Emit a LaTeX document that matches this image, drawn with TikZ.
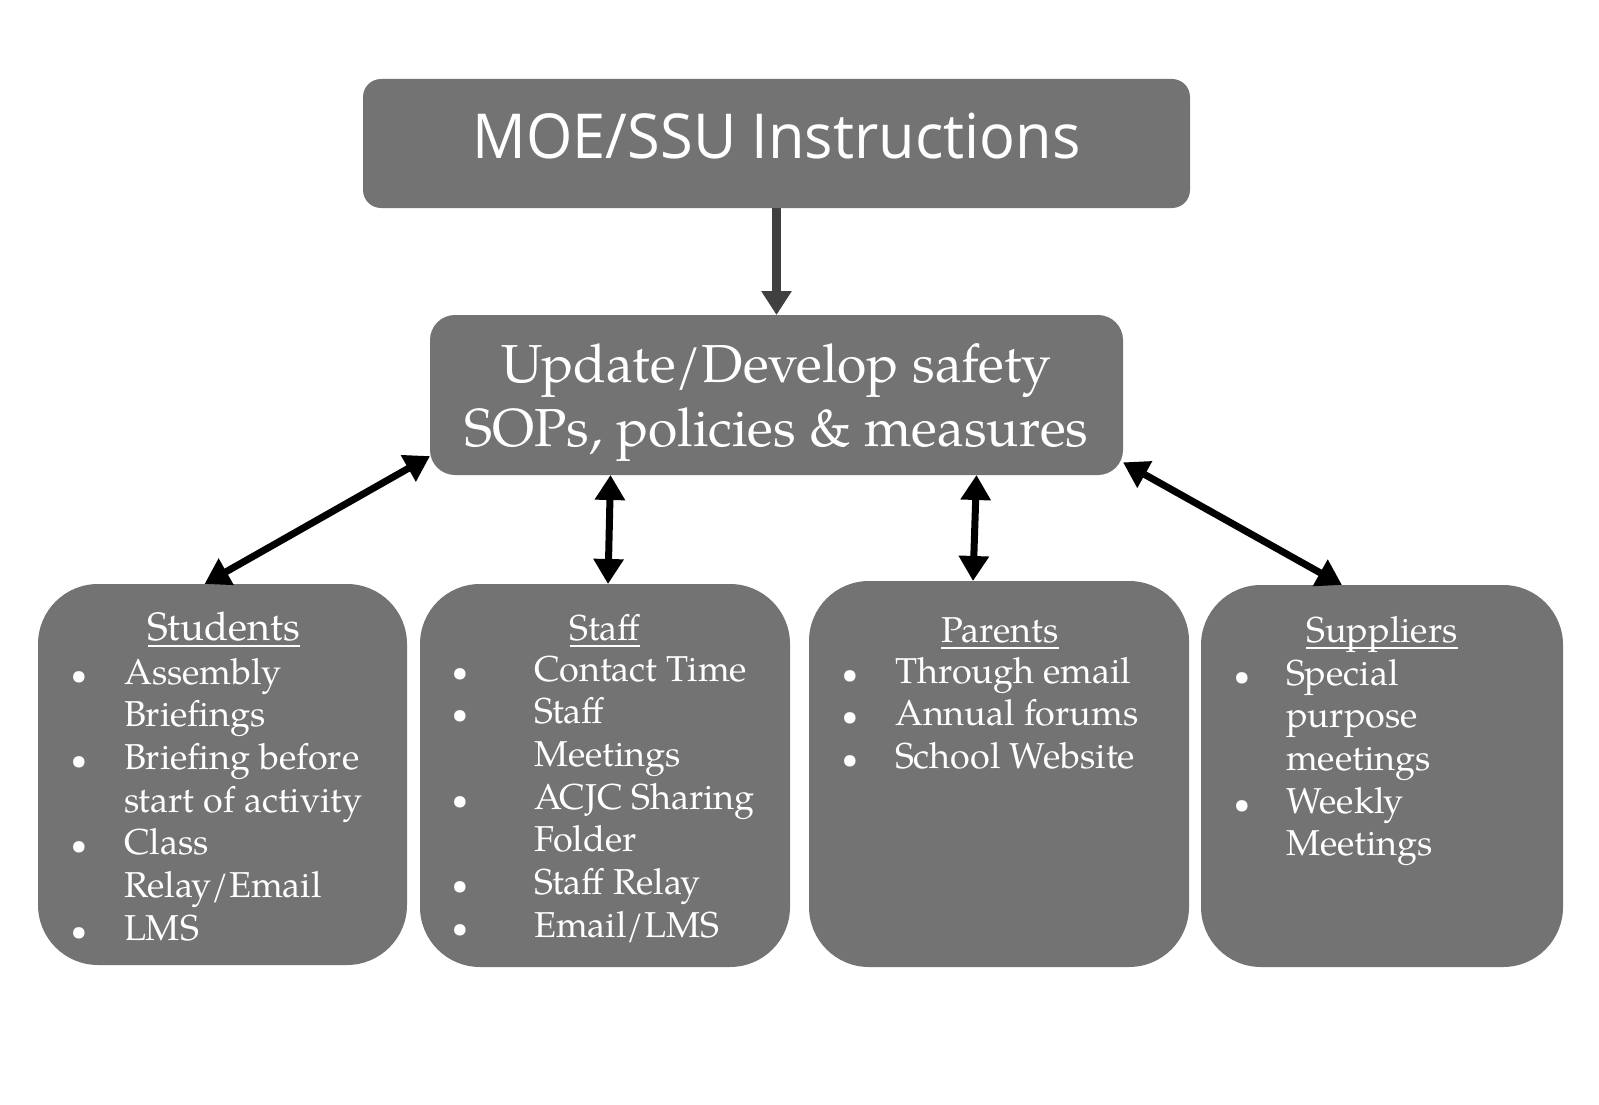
\documentclass[tikz,border=0pt]{standalone}
\usepackage{fontspec}
\usepackage{graphicx}
\setmainfont{TeX Gyre Pagella}
\newfontfamily\titlefont{Open Sans}[FakeStretch=0.96]
\usetikzlibrary{arrows.meta}
\definecolor{boxgray}{HTML}{737373}
\definecolor{arrgray}{HTML}{404040}
\newlength\ulw
\newcommand{\ulin}[1]{\settowidth{\ulw}{#1}\rlap{\rule[-7pt]{\ulw}{2pt}}#1}
\newcommand{\bl}[1]{\makebox[#1pt][l]{\makebox[0pt]{\scalebox{0.8}{\textbullet}}}}
\begin{document}
\begin{tikzpicture}[x=1pt,y=-1pt,
  box/.style={fill=boxgray, draw=none, inner sep=0pt, outer sep=0pt},
  txt/.style={text=white, inner sep=0pt, outer sep=0pt},
  listfont/.style={font=\fontsize{36}{42.7}\selectfont},
  midfont/.style={font=\fontsize{53.5}{64}\selectfont},
  dbl/.style={line width=7pt, {Triangle[length=25pt,width=29pt]}-{Triangle[length=25pt,width=29pt]}},
  toparr/.style={line width=9pt, draw=arrgray, -{Triangle[length=24pt,width=29pt]}},
]
\useasboundingbox (0,0) rectangle (1599,1105);

% top box
\node[box, rounded corners=18pt, minimum width=827pt, minimum height=129pt] (top) at (776.5,143.5) {};
\node[txt, anchor=base, font=\titlefont\fontsize{62}{74}\selectfont] (toptxt) at (776.5,159) {MOE/SSU Instructions};

% middle box
\node[box, rounded corners=25pt, minimum width=693pt, minimum height=160pt] (mid) at (776.5,395) {};
\node[txt, anchor=base, midfont] (midl1) at (776.5,382) {Update/Develop safety};
\node[txt, anchor=base, midfont] (midl2) at (776.5,446) {SOPs, policies \& measures};

% bottom boxes
\node[box, rounded corners=60pt, minimum width=369pt, minimum height=381pt] (stu) at (222.5,774.5) {};
\node[box, rounded corners=60pt, minimum width=370pt, minimum height=383pt] (staff) at (605,775.5) {};
\node[box, rounded corners=60pt, minimum width=380pt, minimum height=386pt] (par) at (999,774) {};
\node[box, rounded corners=60pt, minimum width=362pt, minimum height=382pt] (sup) at (1382,776) {};

% headings
\node[txt, font=\fontsize{39.5}{44}\selectfont, anchor=base] (stuhead) at (224,640) {\ulin{Students}};
\node[txt, listfont, anchor=base] (staffhead) at (605,640) {\ulin{Staff}};
\node[txt, listfont, anchor=base] (parhead) at (1000,642) {\ulin{Parents}};
\node[txt, listfont, anchor=base] (suphead) at (1382,642) {\ulin{Suppliers}};

% lists
\node[txt, listfont, anchor=base west] (stulist) at (79,684) {\begin{tabular}[t]{@{}l@{}l@{}}
\bl{45}&Assembly\\
&Briefings\\
\bl{45}&Briefing before\\
&start of activity\\
\bl{45}&Class\\
&Relay/Email\\
\bl{45}&LMS
\end{tabular}};
\node[txt, listfont, anchor=base west] (stafflist) at (460,681) {\begin{tabular}[t]{@{}l@{}l@{}}
\bl{74}&Contact Time\\
\bl{74}&Staff\\
&Meetings\\
\bl{74}&ACJC Sharing\\
&Folder\\
\bl{74}&Staff Relay\\
\bl{74}&Email/LMS
\end{tabular}};
\node[txt, listfont, anchor=base west] (parlist) at (850,683) {\begin{tabular}[t]{@{}l@{}l@{}}
\bl{45}&Through email\\
\bl{45}&Annual forums\\
\bl{45}&School Website
\end{tabular}};
\node[txt, listfont, anchor=base west] (suplist) at (1242,685) {\begin{tabular}[t]{@{}l@{}l@{}}
\bl{44}&Special\\
&purpose\\
&meetings\\
\bl{44}&Weekly\\
&Meetings
\end{tabular}};

% connectors
\draw[toparr] (top.south) -- (mid.north);
\draw[dbl] (mid.190.9) -- ([xshift=-18pt]stu.north);
\draw[dbl] ([xshift=-166pt]mid.south) -- ([xshift=3pt]staff.north);
\draw[dbl] ([xshift=200pt]mid.south) -- ([xshift=-26pt]par.north);
\draw[dbl] (mid.349.2) -- ([xshift=-40pt]sup.north);
\end{tikzpicture}
\end{document}
